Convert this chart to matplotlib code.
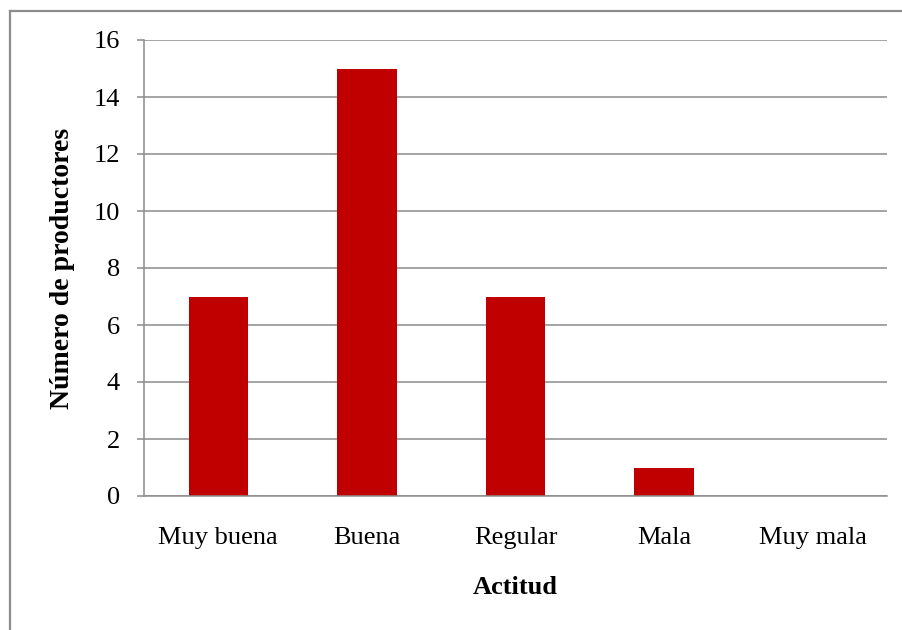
import matplotlib
matplotlib.use("Agg")
import matplotlib.pyplot as plt
from matplotlib.lines import Line2D
import numpy as np

# data
categorias = ["Muy buena", "Buena", "Regular", "Mala", "Muy mala"]
productores = [7, 15, 7, 1, 0]
y_ticks = [0, 2, 4, 6, 8, 10, 12, 14, 16]

plt.rcParams['font.family'] = ['Liberation Serif', 'DejaVu Serif']

fig = plt.figure(figsize=(9.03, 6.3), dpi=100)
ax = fig.add_axes([144 / 903, 1 - 496 / 630, (887 - 144) / 903, (496 - 40) / 630])

x = np.arange(len(categorias))
ax.bar(x, productores, width=0.4, color="#C00000", zorder=3)

ax.set_xlim(-0.5, len(categorias) - 0.5)
ax.set_ylim(0, 16)
ax.set_yticks(y_ticks)
ax.set_xticks(x)
ax.set_xticklabels(categorias, fontsize=19)
ax.tick_params(axis="y", labelsize=19, length=5, width=1.1, color="#8c8c8c", pad=12.3)
ax.tick_params(axis="x", length=0, pad=22)

ax.yaxis.grid(True, color="#8c8c8c", linewidth=1.1, zorder=0)
for s in ["top", "right"]:
    ax.spines[s].set_visible(False)
for s in ["left", "bottom"]:
    ax.spines[s].set_color("#8c8c8c")
    ax.spines[s].set_linewidth(1.1)
    ax.spines[s].set_zorder(4)

ax.set_xlabel("Actitud", fontsize=19, fontweight="bold", labelpad=20)
ax.set_ylabel("Número de productores", fontsize=20, fontweight="bold", labelpad=13)

# outer chart border (only left and top visible)
fig.add_artist(Line2D([10 / 903, 10 / 903], [0, 1 - 10.5 / 630], color="#8c8c8c", lw=1.6))
fig.add_artist(Line2D([10 / 903, 1], [1 - 10.5 / 630, 1 - 10.5 / 630], color="#8c8c8c", lw=1.6))

fig.savefig("out.png", dpi=100)
